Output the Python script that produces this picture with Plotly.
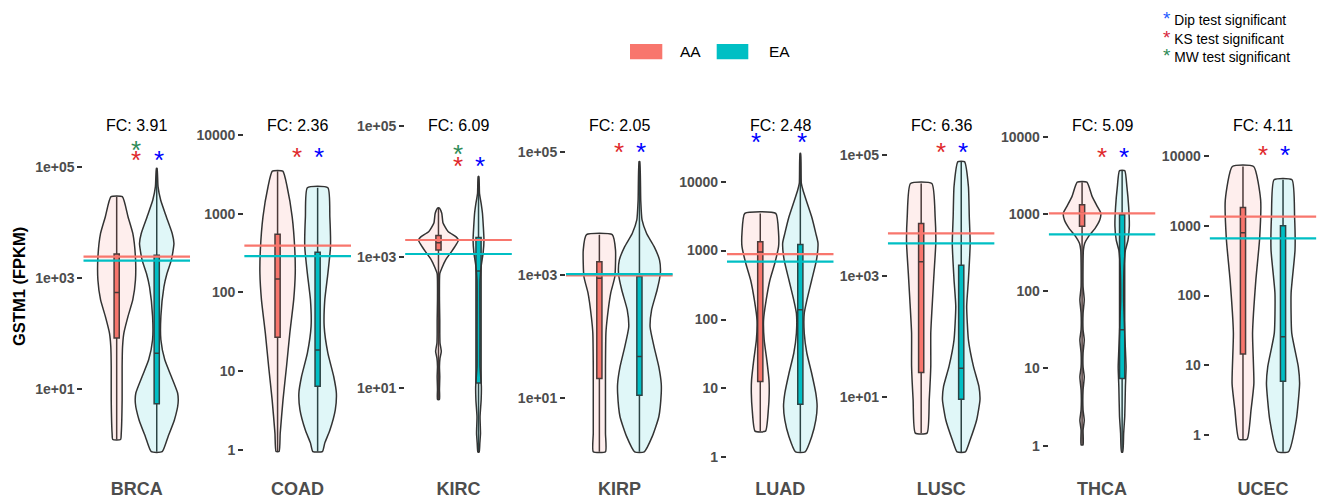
import plotly.graph_objects as go

# ---------------- data ----------------
CANCERS = ["BRCA", "COAD", "KIRC", "KIRP", "LUAD", "LUSC", "THCA", "UCEC"]
FOLD_CHANGE = ["3.91", "2.36", "6.09", "2.05", "2.48", "6.36", "5.09", "4.11"]

# violin profiles: log10(FPKM) levels and relative density (1 = widest)
AA_LEVELS = [
    [4.46, 4.10, 3.80, 3.38, 2.96, 2.61, 2.31, 2.01, 1.77, 1.41, 0.81, 0.21, 0.10],
    [3.54, 3.34, 2.96, 2.54, 2.24, 1.91, 1.48, 1.06, 0.64, 0.21, -0.02],
    [3.75, 3.67, 3.52, 3.39, 3.31, 3.26, 3.19, 3.08, 2.96, 2.83, 2.75, 2.35, 2.04, 1.84, 1.69, 1.56, 1.46, 1.33, 1.18, 0.98, 0.83],
    [3.65, 3.40, 2.97, 2.70, 2.32, 2.05, 1.50, 0.96, 0.42, 0.12],
    [3.54, 3.25, 3.06, 2.82, 2.57, 2.28, 1.99, 1.70, 1.41, 1.12, 0.93, 0.69, 0.38],
    [4.53, 3.98, 3.54, 3.05, 2.61, 2.06, 1.51, 0.96, 0.41],
    [3.41, 3.22, 3.09, 3.01, 2.92, 2.81, 2.71, 2.62, 2.53, 2.06, 1.89, 1.71, 1.50, 1.37, 1.20, 1.02, 0.89, 0.72, 0.46, 0.33, 0.20, 0.01],
    [3.85, 3.37, 2.80, 2.22, 1.46, 0.74, 0.36, -0.06],
]
AA_DENSITY = [
    [0.26, 0.52, 0.74, 0.86, 0.86, 0.74, 0.52, 0.33, 0.27, 0.25, 0.25, 0.21, 0.18],
    [0.24, 0.44, 0.67, 0.79, 0.81, 0.74, 0.56, 0.41, 0.25, 0.12, 0.07],
    [0.03, 0.15, 0.21, 0.44, 0.81, 0.92, 0.81, 0.59, 0.33, 0.15, 0.06, 0.045, 0.06, 0.06, 0.07, 0.13, 0.07, 0.045, 0.06, 0.045, 0.045],
    [0.59, 0.74, 0.71, 0.52, 0.37, 0.30, 0.28, 0.28, 0.28, 0.28],
    [0.71, 0.84, 0.84, 0.67, 0.44, 0.27, 0.15, 0.18, 0.30, 0.40, 0.41, 0.37, 0.24],
    [0.49, 0.64, 0.67, 0.59, 0.52, 0.44, 0.44, 0.37, 0.27],
    [0.22, 0.47, 0.71, 0.86, 0.81, 0.59, 0.30, 0.12, 0.06, 0.045, 0.10, 0.045, 0.045, 0.10, 0.045, 0.045, 0.10, 0.045, 0.045, 0.10, 0.045, 0.045],
    [0.49, 0.81, 0.76, 0.59, 0.44, 0.50, 0.37, 0.19],
]
EA_LEVELS = [
    [4.97, 4.64, 4.40, 4.10, 3.80, 3.62, 3.32, 3.08, 2.84, 2.31, 1.89, 1.53, 1.23, 0.93, 0.75, 0.45, 0.15, -0.12],
    [3.33, 2.96, 2.58, 2.24, 1.91, 1.57, 1.23, 0.93, 0.72, 0.51, 0.25, 0.09, -0.02],
    [4.23, 3.97, 3.82, 3.67, 3.47, 3.26, 3.06, 2.86, 2.65, 1.84, 1.33, 1.03, 0.82, 0.57, 0.31, 0.16, 0.03],
    [4.84, 4.21, 3.89, 3.67, 3.46, 3.24, 3.02, 2.75, 2.43, 2.15, 1.83, 1.50, 1.23, 1.07, 0.69, 0.37, 0.12],
    [4.41, 3.98, 3.88, 3.73, 3.49, 3.25, 3.11, 2.86, 2.57, 2.28, 2.09, 1.80, 1.51, 1.22, 0.93, 0.74, 0.54, 0.30, 0.08],
    [4.89, 4.48, 3.98, 3.54, 2.94, 2.50, 1.95, 1.51, 1.18, 0.96, 0.63, 0.30, 0.10],
    [3.56, 3.35, 3.09, 2.84, 2.66, 2.53, 2.32, 1.89, 1.45, 1.02, 0.76, 0.38, 0.16, -0.08],
    [3.66, 3.13, 2.65, 2.03, 1.46, 0.98, 0.74, 0.22, -0.24],
]
EA_DENSITY = [
    [0.015, 0.06, 0.18, 0.44, 0.71, 0.79, 0.67, 0.47, 0.33, 0.19, 0.19, 0.37, 0.67, 0.96, 0.98, 0.81, 0.52, 0.25],
    [0.47, 0.56, 0.59, 0.47, 0.33, 0.30, 0.47, 0.74, 0.86, 0.81, 0.56, 0.33, 0.22],
    [0.015, 0.045, 0.12, 0.18, 0.22, 0.25, 0.21, 0.12, 0.07, 0.07, 0.07, 0.13, 0.12, 0.07, 0.09, 0.06, 0.03],
    [0.015, 0.06, 0.12, 0.33, 0.67, 0.92, 0.96, 0.81, 0.56, 0.49, 0.67, 0.89, 1.0, 1.0, 0.89, 0.59, 0.22],
    [0.015, 0.045, 0.12, 0.27, 0.52, 0.71, 0.81, 0.74, 0.52, 0.30, 0.18, 0.18, 0.30, 0.52, 0.71, 0.77, 0.71, 0.52, 0.22],
    [0.15, 0.33, 0.37, 0.41, 0.33, 0.25, 0.33, 0.56, 0.81, 0.86, 0.71, 0.41, 0.19],
    [0.12, 0.22, 0.30, 0.33, 0.27, 0.15, 0.09, 0.07, 0.12, 0.18, 0.15, 0.12, 0.07, 0.03],
    [0.41, 0.53, 0.55, 0.37, 0.40, 0.70, 0.76, 0.61, 0.25],
]

# box statistics, log10(FPKM): q1, median, q3 (whiskers reach the data extremes)
AA_Q1 = [1.92, 1.43, 3.11, 1.31, 1.10, 1.41, 2.84, 1.16]
AA_MED = [2.74, 2.17, 3.22, 2.94, 2.98, 3.24, 3.01, 2.90]
AA_Q3 = [3.43, 2.74, 3.33, 3.21, 3.13, 3.87, 3.12, 3.26]
EA_Q1 = [0.74, 0.81, 1.08, 1.04, 0.77, 0.97, 0.87, 0.77]
EA_MED = [1.65, 1.27, 2.79, 1.67, 2.14, 1.48, 1.50, 1.41]
EA_Q3 = [3.41, 2.51, 3.30, 2.97, 3.09, 3.18, 2.99, 3.00]

# group means, log10(FPKM)
AA_MEAN = [3.383, 2.595, 3.262, 2.990, 2.950, 3.707, 3.008, 3.130]
EA_MEAN = [3.311, 2.463, 3.048, 3.010, 2.839, 3.542, 2.736, 2.820]

# significance flags
KS_SIG = [True, True, True, True, False, True, True, True]
MW_SIG = [True, False, True, False, False, False, False, False]
DIP_AA = [False, False, False, False, True, False, False, False]
DIP_EA = [True, True, True, True, True, True, True, True]

# axis styles / ranges (log10)
Y_STYLE = ["sci", "plain", "sci", "sci", "plain", "sci", "plain", "plain"]
Y_RANGE = [[-0.413, 6.041], [-0.229, 4.334], [-0.215, 5.264], [-0.144, 5.699],
           [-0.155, 5.059], [-0.166, 5.764], [-0.289, 4.362], [-0.473, 4.678]]

# ---------------- styling ----------------
W, H = 1317, 498
FONT = "Liberation Sans, Arial, sans-serif"
AA_COL, EA_COL = "#F8766D", "#00BFC4"
AA_FILL, EA_FILL = "rgba(248,118,109,0.12)", "rgba(0,191,196,0.12)"
OUTLINE = "#333333"
KS_COL, MW_COL, DIP_COL = "#E0282B", "#2E8B57", "#0000FF"
HALF = 0.245          # half-width (x units) of density 1
POS = {"AA": 0.775, "EA": 1.225}
PANEL_TOP, PANEL_BOT = 108.7, 468.0
PANEL_C0, PANEL_STEP, PANEL_HALF = 136.7, 160.9, 53.4

fig = go.Figure()
layout = {}
annotations = []
shapes = []

for i, cancer in enumerate(CANCERS):
    ax = "" if i == 0 else str(i + 1)
    xr, yr = "x" + ax, "y" + ax
    groups = [
        ("AA", AA_LEVELS[i], AA_DENSITY[i], AA_Q1[i], AA_MED[i], AA_Q3[i], AA_FILL, AA_COL),
        ("EA", EA_LEVELS[i], EA_DENSITY[i], EA_Q1[i], EA_MED[i], EA_Q3[i], EA_FILL, EA_COL),
    ]
    # violins
    for g, lv, dens, q1, med, q3, fill, col in groups:
        pts = sorted(zip(lv, dens))
        ys = [10 ** v for v, _ in pts]
        right = [POS[g] + d * HALF for _, d in pts]
        left = [POS[g] - d * HALF for _, d in pts]
        fig.add_trace(go.Scatter(
            x=right + left[::-1] + [right[0]], y=ys + ys[::-1] + [ys[0]],
            mode="lines", fill="toself", fillcolor=fill,
            line=dict(color=OUTLINE, width=1.5, shape="spline", smoothing=0.5),
            xaxis=xr, yaxis=yr, showlegend=False, hoverinfo="skip"))
    # boxes
    for g, lv, dens, q1, med, q3, fill, col in groups:
        fig.add_trace(go.Box(
            x=[POS[g]], q1=[10 ** q1], median=[10 ** med], q3=[10 ** q3],
            lowerfence=[10 ** min(lv)], upperfence=[10 ** max(lv)],
            width=0.058, fillcolor=col, line=dict(color=OUTLINE, width=1.5),
            whiskerwidth=0, boxpoints=False,
            xaxis=xr, yaxis=yr, showlegend=False, hoverinfo="skip"))
    # mean lines
    for m, col in ((AA_MEAN[i], AA_COL), (EA_MEAN[i], EA_COL)):
        fig.add_trace(go.Scatter(
            x=[0.4, 1.6], y=[10 ** m, 10 ** m], mode="lines",
            line=dict(color=col, width=2.2),
            xaxis=xr, yaxis=yr, showlegend=False, hoverinfo="skip"))

    c = PANEL_C0 + PANEL_STEP * i
    if Y_STYLE[i] == "sci":
        tv, tt = [10, 1000, 100000], ["1e+01", "1e+03", "1e+05"]
    else:
        tv, tt = [1, 10, 100, 1000, 10000], ["1", "10", "100", "1000", "10000"]
    layout["xaxis" + ax] = dict(
        domain=[(c - PANEL_HALF) / W, (c + PANEL_HALF) / W], range=[0.4, 1.6],
        tickvals=[1], ticktext=[cancer], ticks="", showgrid=False, zeroline=False,
        showline=False, anchor=yr, fixedrange=True, ticklabelstandoff=8,
        tickfont=dict(family=FONT, size=18, color="#4D4D4D", weight="bold"))
    layout["yaxis" + ax] = dict(
        domain=[1 - PANEL_BOT / H, 1 - PANEL_TOP / H], type="log", range=Y_RANGE[i],
        tickvals=tv, ticktext=tt, ticks="outside", ticklen=5, tickwidth=1.5,
        tickcolor=OUTLINE, showgrid=False, zeroline=False, showline=False,
        anchor=xr, fixedrange=True,
        tickfont=dict(family=FONT, size=14, color="#4D4D4D", weight="bold"))

    # fold change label
    annotations.append(dict(
        text="FC: " + FOLD_CHANGE[i], xref=xr + " domain", yref=yr + " domain",
        x=0.5, y=(PANEL_BOT - 125) / (PANEL_BOT - PANEL_TOP), xanchor="center",
        yanchor="middle", showarrow=False, font=dict(family=FONT, size=16, color="black")))

    # significance stars
    top = max(max(AA_LEVELS[i]), max(EA_LEVELS[i]))
    star_y = top + 0.255
    stars = []
    if KS_SIG[i]:
        stars.append((0.995, star_y, KS_COL))
    if MW_SIG[i]:
        stars.append((0.995, star_y + 0.176, MW_COL))
    if DIP_AA[i]:
        stars.append((0.73, star_y, DIP_COL))
    if DIP_EA[i]:
        stars.append((1.245, star_y, DIP_COL))
    for sx, sy, scol in stars:
        annotations.append(dict(
            text="*", xref=xr, yref=yr, x=sx, y=sy, xanchor="center", yanchor="middle",
            yshift=-6, showarrow=False, font=dict(family=FONT, size=26, color=scol)))

# y-axis title
annotations.append(dict(
    text="GSTM1 (FPKM)", xref="paper", yref="paper", x=19 / W, y=1 - 287 / H,
    textangle=-90, showarrow=False, xanchor="center", yanchor="middle",
    font=dict(family=FONT, size=16.5, color="black", weight="bold")))

# group legend
for lab, col, x0, x1, tx in (("AA", AA_COL, 630, 662.3, 678), ("EA", EA_COL, 716.7, 748.3, 766.5)):
    shapes.append(dict(type="rect", xref="paper", yref="paper", x0=x0 / W, x1=x1 / W,
                       y0=1 - 59.3 / H, y1=1 - 44 / H, fillcolor=col, line=dict(width=0)))
    annotations.append(dict(text=lab, xref="paper", yref="paper", x=tx / W, y=1 - 52 / H,
                            xanchor="left", yanchor="middle", showarrow=False,
                            font=dict(family=FONT, size=15.5, color="black")))

# significance legend
for txt, col, py in (("Dip test significant", "#1F5BFF", 18.3),
                     ("KS test significant", "#D7263D", 37.0),
                     ("MW test significant", "#2E8B57", 56.0)):
    annotations.append(dict(
        text='<span style="color:%s;font-size:19px">*</span> %s' % (col, txt),
        xref="paper", yref="paper",
        x=1161 / W, y=1 - py / H, xanchor="left", yanchor="middle", showarrow=False,
        font=dict(family=FONT, size=13.8, color="black")))

fig.update_layout(
    width=W, height=H, margin=dict(l=0, r=0, t=0, b=0),
    paper_bgcolor="white", plot_bgcolor="white", boxmode="overlay",
    annotations=annotations, shapes=shapes, showlegend=False, **layout)

fig.write_html("out.html", config={"displayModeBar": False})
